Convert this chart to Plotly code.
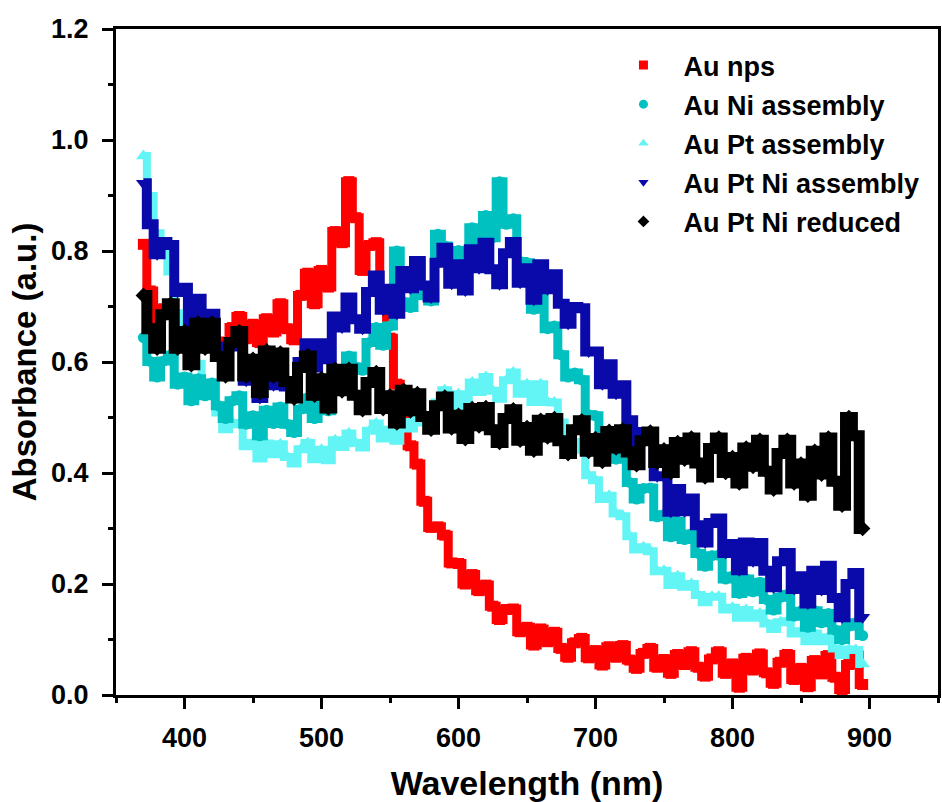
import plotly.graph_objects as go

# ---------------- data ----------------
wavelength = list(range(370, 900, 5))  # nm, 370 ... 895

au_nps = [
    0.812, 0.728, 0.664, 0.696, 0.701, 0.631, 0.654, 0.605, 0.669, 0.637,
    0.669, 0.636, 0.623, 0.662, 0.682, 0.642, 0.668, 0.635, 0.678, 0.654,
    0.705, 0.660, 0.640, 0.720, 0.760, 0.705, 0.765, 0.735, 0.835, 0.815,
    0.925, 0.860, 0.765, 0.810, 0.815, 0.710, 0.643, 0.560, 0.528, 0.449,
    0.416, 0.349, 0.302, 0.303, 0.288, 0.238, 0.237, 0.200, 0.217, 0.188,
    0.198, 0.160, 0.136, 0.154, 0.155, 0.114, 0.122, 0.090, 0.119, 0.096,
    0.113, 0.084, 0.068, 0.094, 0.102, 0.067, 0.080, 0.054, 0.087, 0.068,
    0.089, 0.063, 0.048, 0.075, 0.084, 0.050, 0.064, 0.039, 0.073, 0.055,
    0.078, 0.050, 0.034, 0.065, 0.078, 0.039, 0.056, 0.014, 0.066, 0.045,
    0.074, 0.040, 0.021, 0.059, 0.073, 0.028, 0.048, 0.015, 0.062, 0.038,
    0.071, 0.032, 0.010, 0.055, 0.072, 0.019,
]

au_ni_assembly = [
    0.644, 0.601, 0.573, 0.602, 0.612, 0.560, 0.573, 0.530, 0.570, 0.539,
    0.562, 0.521, 0.498, 0.530, 0.539, 0.488, 0.503, 0.467, 0.513, 0.489,
    0.519, 0.488, 0.473, 0.515, 0.535, 0.498, 0.531, 0.512, 0.574, 0.566,
    0.611, 0.591, 0.585, 0.635, 0.662, 0.630, 0.665, 0.800, 0.708, 0.698,
    0.775, 0.720, 0.710, 0.830, 0.809, 0.761, 0.801, 0.768, 0.842, 0.810,
    0.864, 0.824, 0.925, 0.848, 0.858, 0.781, 0.779, 0.695, 0.719, 0.660,
    0.665, 0.613, 0.573, 0.580, 0.568, 0.505, 0.503, 0.450, 0.465, 0.425,
    0.430, 0.383, 0.353, 0.372, 0.373, 0.321, 0.325, 0.285, 0.313, 0.280,
    0.290, 0.255, 0.232, 0.251, 0.252, 0.209, 0.214, 0.183, 0.209, 0.186,
    0.203, 0.172, 0.153, 0.176, 0.181, 0.142, 0.151, 0.122, 0.152, 0.130,
    0.147, 0.117, 0.100, 0.124, 0.130, 0.107,
]

au_pt_assembly = [
    0.971, 0.899, 0.832, 0.803, 0.763, 0.688, 0.662, 0.600, 0.597, 0.556,
    0.551, 0.509, 0.479, 0.490, 0.488, 0.448, 0.454, 0.426, 0.453, 0.434,
    0.452, 0.429, 0.417, 0.443, 0.454, 0.425, 0.442, 0.423, 0.459, 0.447,
    0.471, 0.454, 0.446, 0.476, 0.489, 0.462, 0.478, 0.458, 0.492, 0.480,
    0.510, 0.491, 0.485, 0.527, 0.549, 0.518, 0.542, 0.519, 0.563, 0.546,
    0.573, 0.548, 0.534, 0.567, 0.581, 0.543, 0.560, 0.528, 0.560, 0.528,
    0.527, 0.491, 0.459, 0.456, 0.442, 0.396, 0.387, 0.353, 0.359, 0.327,
    0.322, 0.286, 0.262, 0.266, 0.259, 0.223, 0.224, 0.198, 0.214, 0.195,
    0.200, 0.180, 0.167, 0.177, 0.177, 0.154, 0.157, 0.139, 0.153, 0.139,
    0.147, 0.129, 0.119, 0.131, 0.133, 0.111, 0.115, 0.097, 0.111, 0.097,
    0.104, 0.084, 0.072, 0.082, 0.081, 0.056,
]

au_pt_ni_assembly = [
    0.922, 0.848, 0.794, 0.816, 0.811, 0.726, 0.734, 0.670, 0.714, 0.664,
    0.687, 0.628, 0.589, 0.628, 0.636, 0.566, 0.585, 0.535, 0.594, 0.558,
    0.597, 0.556, 0.538, 0.600, 0.634, 0.590, 0.634, 0.605, 0.682, 0.662,
    0.716, 0.677, 0.660, 0.726, 0.756, 0.694, 0.732, 0.687, 0.764, 0.733,
    0.782, 0.738, 0.716, 0.779, 0.806, 0.741, 0.776, 0.729, 0.803, 0.769,
    0.815, 0.767, 0.740, 0.796, 0.816, 0.743, 0.769, 0.712, 0.776, 0.731,
    0.758, 0.705, 0.669, 0.699, 0.697, 0.619, 0.619, 0.560, 0.596, 0.543,
    0.558, 0.495, 0.449, 0.474, 0.472, 0.394, 0.394, 0.330, 0.371, 0.331,
    0.354, 0.306, 0.275, 0.310, 0.318, 0.256, 0.272, 0.225, 0.275, 0.241,
    0.274, 0.224, 0.194, 0.241, 0.256, 0.191, 0.214, 0.165, 0.224, 0.189,
    0.233, 0.175, 0.140, 0.200, 0.220, 0.140,
]

au_pt_ni_reduced = [
    0.720, 0.660, 0.625, 0.685, 0.705, 0.625, 0.655, 0.595, 0.670, 0.625,
    0.670, 0.610, 0.575, 0.635, 0.655, 0.575, 0.605, 0.545, 0.620, 0.575,
    0.616, 0.565, 0.535, 0.590, 0.611, 0.540, 0.570, 0.517, 0.587, 0.548,
    0.587, 0.540, 0.514, 0.563, 0.581, 0.516, 0.539, 0.490, 0.549, 0.512,
    0.543, 0.502, 0.479, 0.521, 0.537, 0.481, 0.504, 0.462, 0.516, 0.485,
    0.518, 0.478, 0.455, 0.498, 0.514, 0.459, 0.482, 0.441, 0.495, 0.465,
    0.498, 0.458, 0.435, 0.478, 0.494, 0.439, 0.462, 0.421, 0.475, 0.445,
    0.478, 0.438, 0.415, 0.458, 0.474, 0.419, 0.442, 0.401, 0.455, 0.425,
    0.463, 0.418, 0.393, 0.444, 0.463, 0.401, 0.428, 0.382, 0.445, 0.412,
    0.459, 0.403, 0.371, 0.435, 0.459, 0.382, 0.416, 0.360, 0.439, 0.398,
    0.463, 0.385, 0.342, 0.500, 0.467, 0.300,
]

series_names = ["Au nps", "Au Ni assembly", "Au Pt assembly",
                "Au Pt Ni assembly", "Au Pt Ni reduced"]
series_values = [au_nps, au_ni_assembly, au_pt_assembly,
                 au_pt_ni_assembly, au_pt_ni_reduced]
series_colors = ["#FF0000", "#00C0C0", "#63F5F5", "#0A0AAA", "#000000"]
series_symbols = ["square", "circle", "triangle-up", "triangle-down", "diamond"]
series_sizes = [11, 11, 13, 13, 12]
band_widths = [9, 9, 8, 10, 11]  # dense point cloud rendered as a stepped ribbon
draw_order = [0, 2, 1, 3, 4]     # later traces drawn on top

FONT = "Liberation Sans"

fig = go.Figure()

for i in draw_order:
    fig.add_trace(go.Scatter(
        x=wavelength, y=series_values[i], mode="lines+markers",
        name=series_names[i], showlegend=False,
        line=dict(color=series_colors[i], width=band_widths[i], shape="hvh"),
        marker=dict(symbol=series_symbols[i], color=series_colors[i],
                    size=series_sizes[i], line=dict(width=0)),
    ))

# legend entries (small symbols, as in the original legend)
for i in range(5):
    fig.add_trace(go.Scatter(
        x=[None], y=[None], mode="markers", name=series_names[i],
        legendgroup=series_names[i], legendrank=i + 1,
        marker=dict(symbol=series_symbols[i], color=series_colors[i], size=9),
    ))

axis_common = dict(
    showline=True, linecolor="black", linewidth=3, mirror=True,
    ticks="outside", ticklen=11, tickwidth=3, tickcolor="black",
    showgrid=False, zeroline=False,
    tickfont=dict(family=FONT, size=27, color="black", weight="bold"),
)

fig.update_xaxes(
    range=[350, 950], tick0=400, dtick=100,
    minor=dict(ticks="outside", ticklen=5, tickwidth=3, tickcolor="black",
               tick0=350, dtick=50),
    title=dict(text="Wavelength (nm)", standoff=22,
               font=dict(family=FONT, size=34, color="black", weight="bold")),
    ticklabelstandoff=6,
    **axis_common,
)
fig.update_yaxes(
    range=[0, 1.2], tick0=0, dtick=0.2, tickformat=".1f",
    minor=dict(ticks="outside", ticklen=5, tickwidth=3, tickcolor="black",
               tick0=0, dtick=0.1),
    title=dict(text="Absorbance (a.u.)", standoff=5,
               font=dict(family=FONT, size=33, color="black", weight="bold")),
    ticklabelstandoff=8,
    **axis_common,
)

fig.update_layout(
    width=942, height=802,
    margin=dict(l=116, r=1, t=29, b=107),
    plot_bgcolor="white", paper_bgcolor="white",
    showlegend=True,
    legend=dict(
        x=0.593, y=0.982, xanchor="left", yanchor="top",
        bgcolor="rgba(0,0,0,0)", borderwidth=0,
        font=dict(family=FONT, size=27, color="black", weight="bold"),
        traceorder="grouped", tracegroupgap=1, itemwidth=70,
    ),
)

fig.write_html("out.html")
